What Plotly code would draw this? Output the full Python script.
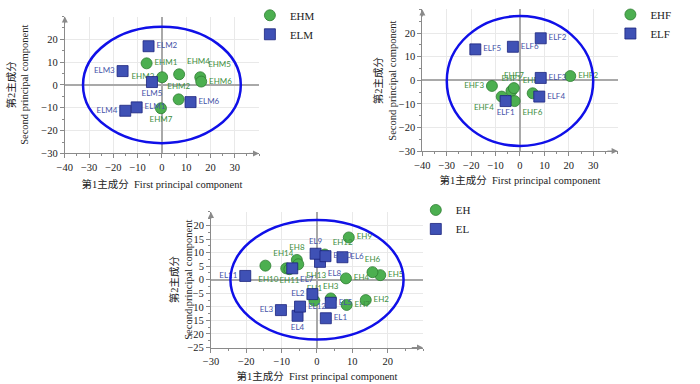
import plotly.graph_objects as go

# ---------------- data ----------------
# Panel 1 (top-left)
ehm_labels = ["EHM1", "EHM2", "EHM3", "EHM4", "EHM5", "EHM6", "EHM7"]
ehm_x = [-6.3, 6.9, 0.1, 7.1, 15.8, 16.2, -0.4]
ehm_y = [9.5, -6.3, 3.4, 4.7, 3.4, 1.5, -10.2]
elm_labels = ["ELM1", "ELM2", "ELM3", "ELM4", "ELM5", "ELM6"]
elm_x = [-10.4, -5.5, -16.2, -15.1, -4.1, 11.8]
elm_y = [-9.8, 17.0, 6.1, -11.3, 1.3, -7.5]

# Panel 2 (top-right)
ehf_labels = ["EHF1", "EHF2", "EHF3", "EHF4", "EHF5", "EHF6", "EHF7"]
ehf_x = [-3.5, 20.6, -11.5, -7.5, 5.2, -2.2, -2.5]
ehf_y = [-4.5, 1.8, -2.4, -6.9, -5.5, -8.8, -3.3]
elf_labels = ["ELF1", "ELF2", "ELF3", "ELF4", "ELF5", "ELF6"]
elf_x = [-5.9, 8.5, 8.5, 7.9, -18.3, -2.9]
elf_y = [-8.8, 17.8, 1.0, -6.9, 13.1, 14.2]

# Panel 3 (bottom)
eh_labels = ["EH1", "EH2", "EH3", "EH4", "EH5", "EH6", "EH7", "EH8", "EH9",
             "EH10", "EH11", "EH12", "EH13", "EH14"]
eh_x = [-0.75, 13.8, 3.9, 8.2, 17.9, 15.7, 8.4, -5.7, 9.0, -8.7, -7.8, 2.2, -5.3, -14.6]
eh_y = [-7.7, -7.5, -6.9, 0.5, 1.7, 2.8, -9.3, 7.3, 15.6, 4.2, 3.9, 9.3, 5.7, 5.2]
el_labels = ["EL1", "EL2", "EL3", "EL4", "EL5", "EL6", "EL7", "EL8", "EL9",
             "EL10", "EL11", "EL12"]
el_x = [2.5, -1.3, -10.2, -5.5, 3.9, 7.2, -7.0, 0.85, -0.4, 2.4, -20.3, -4.8]
el_y = [-14.2, -5.3, -11.2, -13.3, -8.5, 8.3, 4.2, 6.6, 9.6, 8.7, 1.4, -9.9]

# confidence ellipses: (center x, center y, semi-axis x, semi-axis y)
ellipse_1 = [0.0, 0.0, 32.5, 25.5]
ellipse_2 = [0.0, -0.3, 30.0, 27.5]
ellipse_3 = [0.0, 0.0, 24.5, 22.0]

# ---------------- styles ----------------
label_pos = {
    "EHM1": "middle right", "EHM2": "top center", "EHM3": "middle left",
    "EHM4": "top right", "EHM5": "top right", "EHM6": "middle right",
    "EHM7": "bottom center",
    "ELM1": "middle right", "ELM2": "middle right", "ELM3": "middle left",
    "ELM4": "middle left", "ELM5": "bottom center", "ELM6": "middle right",
    "EHF1": "top center", "EHF2": "middle right", "EHF3": "middle left",
    "EHF4": "bottom left", "EHF5": "top center", "EHF6": "bottom right",
    "EHF7": "top center",
    "ELF1": "bottom center", "ELF2": "middle right", "ELF3": "middle right",
    "ELF4": "middle right", "ELF5": "middle right", "ELF6": "middle right",
    "EH1": "top center", "EH2": "middle right", "EH3": "top center",
    "EH4": "middle right", "EH5": "middle right", "EH6": "top center",
    "EH7": "middle right", "EH8": "top center", "EH9": "middle right",
    "EH10": "bottom left", "EH11": "bottom center", "EH12": "top right",
    "EH13": "bottom right", "EH14": "top right",
    "EL1": "middle right", "EL2": "middle left", "EL3": "middle left",
    "EL4": "bottom center", "EL5": "middle right", "EL6": "middle right",
    "EL7": "bottom right", "EL8": "bottom right", "EL9": "top center",
    "EL10": "middle right", "EL11": "middle left", "EL12": "middle right",
}

GREEN = "#4CAF50"
GREEN_EDGE = "#2E7D32"
GREEN_TXT = "#3E8E41"
BLUE = "#3F51B5"
BLUE_EDGE = "#1A237E"
BLUE_TXT = "#4654A8"
SERIF = "Liberation Serif, Times New Roman, serif"
TITLE_FONT = dict(family="Liberation Serif, Noto Sans CJK SC, serif", size=10.5, color="#222")
LABEL_FONT_FAMILY = "Lato, Liberation Sans, sans-serif"

fig = go.Figure()


def add_group(names, xs, ys, group, kind, xa, ya, legend):
    if kind == "circle":
        color, edge, tcol = GREEN, GREEN_EDGE, GREEN_TXT
    else:
        color, edge, tcol = BLUE, BLUE_EDGE, BLUE_TXT
    fig.add_trace(go.Scatter(
        x=xs, y=ys, mode="markers+text", name=group,
        text=names, textposition=[label_pos[n] for n in names],
        textfont=dict(family=LABEL_FONT_FAMILY, size=8, color=tcol),
        marker=dict(symbol=kind, size=11, color=color,
                    line=dict(color=edge, width=0.8)),
        xaxis=xa, yaxis=ya, legend=legend, cliponaxis=False,
    ))


add_group(ehm_labels, ehm_x, ehm_y, "EHM", "circle", "x", "y", "legend")
add_group(elm_labels, elm_x, elm_y, "ELM", "square", "x", "y", "legend")
add_group(ehf_labels, ehf_x, ehf_y, "EHF", "circle", "x2", "y2", "legend2")
add_group(elf_labels, elf_x, elf_y, "ELF", "square", "x2", "y2", "legend2")
add_group(eh_labels, eh_x, eh_y, "EH", "circle", "x3", "y3", "legend3")
add_group(el_labels, el_x, el_y, "EL", "square", "x3", "y3", "legend3")

# ellipses
for (cx, cy, rx, ry), xr, yr in [(ellipse_1, "x", "y"), (ellipse_2, "x2", "y2"),
                                  (ellipse_3, "x3", "y3")]:
    fig.add_shape(type="circle", xref=xr, yref=yr,
                  x0=cx - rx, x1=cx + rx, y0=cy - ry, y1=cy + ry,
                  line=dict(color="#1010E8", width=2.5), layer="above")


def axis_common(rng, ticks, minor, domain, anchor, title, standoff):
    return dict(
        domain=domain, anchor=anchor, range=rng, tickvals=ticks,
        automargin=False,
        showline=True, linecolor="#8a8a8a", linewidth=1,
        ticks="outside", ticklen=4, tickcolor="#8a8a8a",
        minor=dict(dtick=minor, ticks="outside", ticklen=2, tickcolor="#8a8a8a",
                   showgrid=False),
        showgrid=True, gridcolor="#e9e9e9", gridwidth=1,
        zeroline=True, zerolinecolor="#a9a9a9", zerolinewidth=1.6,
        tickfont=dict(family=SERIF, size=10.5, color="#222"),
        title=dict(text=title, font=TITLE_FONT, standoff=standoff),
        fixedrange=True,
    )


XT = "第1主成分  First principal component"
YT = "第2主成分<br>Second principal component"

LEG_FONT = dict(family=SERIF, size=11, color="#222")

fig.update_layout(
    width=700, height=384,
    margin=dict(l=0, r=0, t=0, b=0, autoexpand=False),
    paper_bgcolor="white", plot_bgcolor="white",
    xaxis=axis_common([-40, 40], list(range(-40, 31, 10)), 5,
                      [0.0926, 0.370], "y", XT, 8),
    yaxis=axis_common([-30, 30], list(range(-30, 21, 10)), 5,
                      [0.6005, 0.9568], "x", "", 0),
    xaxis2=axis_common([-40, 40], list(range(-40, 31, 10)), 5,
                       [0.6034, 0.8823], "y2", XT, 6),
    yaxis2=axis_common([-30, 30], list(range(-30, 21, 10)), 5,
                       [0.6065, 0.9753], "x2", "", 0),
    xaxis3=axis_common([-30, 30], list(range(-30, 21, 10)), 5,
                       [0.3014, 0.6043], "y3", XT, 6),
    yaxis3=axis_common([-25, 25], list(range(-25, 21, 5)), 2.5,
                       [0.095, 0.448], "x3", "", 0),
    legend=dict(x=0.357, y=0.998, xanchor="left", yanchor="top",
                xref="container", yref="container",
                font=LEG_FONT, bgcolor="rgba(0,0,0,0)"),
    legend2=dict(x=0.872, y=1.0, xanchor="left", yanchor="top",
                 xref="container", yref="container",
                 font=LEG_FONT, bgcolor="rgba(0,0,0,0)"),
    legend3=dict(x=0.594, y=0.491, xanchor="left", yanchor="top",
                 xref="container", yref="container",
                 font=LEG_FONT, bgcolor="rgba(0,0,0,0)"),
    showlegend=True,
)

# y-axis titles (two lines, rotated)
for xr, yr, shift in [("x", "y", -47), ("x2", "y2", -37), ("x3", "y3", -30)]:
    fig.add_annotation(xref=xr + " domain", yref=yr + " domain", x=0, y=0.5,
                       text=YT, textangle=-90, showarrow=False,
                       xanchor="center", yanchor="middle", xshift=shift,
                       font=TITLE_FONT)

# axis arrowheads
for xr, yr, xmin, xmax, ymin, ymax in [("x", "y", -40, 40, -30, 30),
                                        ("x2", "y2", -40, 40, -30, 30),
                                        ("x3", "y3", -30, 30, -25, 25)]:
    fig.add_annotation(xref=xr, yref=yr, axref=xr, ayref=yr, text="",
                       x=xmax, y=ymin, ax=xmax - (xmax - xmin) * 0.06, ay=ymin,
                       showarrow=True, arrowhead=2, arrowsize=1.2, arrowwidth=1,
                       arrowcolor="#8a8a8a")
    fig.add_annotation(xref=xr, yref=yr, axref=xr, ayref=yr, text="",
                       x=xmin, y=ymax, ax=xmin, ay=ymax - (ymax - ymin) * 0.06,
                       showarrow=True, arrowhead=2, arrowsize=1.2, arrowwidth=1,
                       arrowcolor="#8a8a8a")

fig.write_html("out.html", post_script="document.body.style.margin='0px';",
               config={"displayModeBar": False})
